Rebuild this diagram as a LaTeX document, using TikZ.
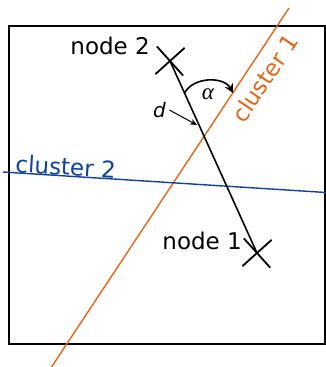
\documentclass[tikz,border=0pt]{standalone}
\usepackage{fontspec}
\setmainfont{DejaVu Sans}
\newfontfamily\greekserif{Liberation Serif}
\usepackage{tikz}
\usetikzlibrary{arrows.meta,positioning,shapes.misc,calc}
\definecolor{clusterorange}{RGB}{233,101,22}
\definecolor{clusterblue}{RGB}{12,66,158}

\begin{document}
\begin{tikzpicture}[x=1pt, y=-1pt,
  font=\fontsize{23}{27}\selectfont,
  crossmark/.style={cross out, draw, line width=1.8pt, minimum size=26pt,
                    inner sep=0pt, rotate=-3},
  lbl/.style={inner sep=0pt},
  cutline/.style={line width=1.4pt},
  >={Stealth[length=7pt, width=6pt]}]
  \useasboundingbox (0,0) rectangle (326,367);
  \draw[line width=1.8pt] (9,26) rectangle (325,344);
  \coordinate (o1) at (51.5,367);
  \coordinate (o2) at (289,8);
  \coordinate (b1) at (3,172);
  \coordinate (b2) at (326,192.5);
  \draw[cutline, clusterorange] (o1) -- (o2);
  \draw[cutline, clusterblue] (b1) -- (b2);
  \node[crossmark] (n2) at (170,61) {};
  \node[crossmark] (n1) at (257,253) {};
  \draw[line width=1.6pt] (n2.center) -- (n1.center);
  \node[lbl, anchor=base east] (l2) at (150,54) {node 2};
  \node[lbl, anchor=base east] (l1) at (242,249) {node 1};
  \node[lbl, anchor=base west, rotate=-3.6, text=clusterblue] (c2) at (15,172) {cluster 2};
  \node[lbl, rotate=56, text=clusterorange] (c1) at (265,78) {cluster 1};
  \node[font=\fontsize{20}{24}\selectfont\itshape] (dl) at (159.5,110) {d};
  \coordinate (dtip) at (197,125);
  \draw[->, line width=1pt] (dl.east) -- (dtip);
  \coordinate (a1) at ($(n2.center)!0.167!(n1.center)$);
  \coordinate (a2) at (233,93);
  \draw[line width=1.6pt, -{Stealth[length=9pt, width=9pt]}] (a1) to[out=62, in=118] (a2);
  \node[font=\fontsize{23}{27}\greekserif\itshape, inner sep=1pt] (al) at (208,94) {α};
\end{tikzpicture}
\end{document}
